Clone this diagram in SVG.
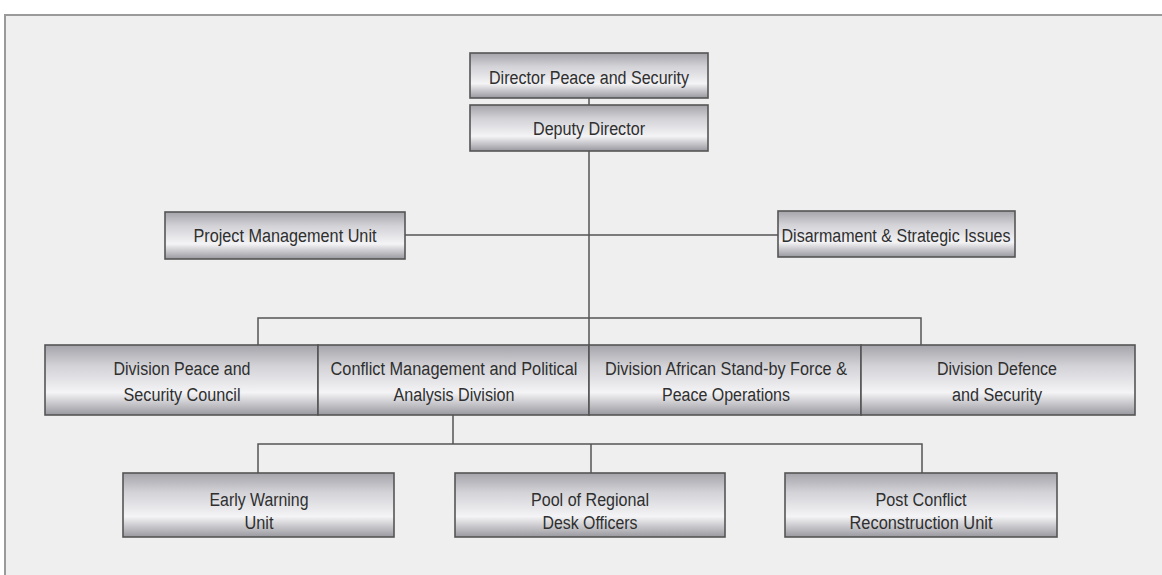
<svg xmlns="http://www.w3.org/2000/svg" width="1162" height="575" viewBox="0 0 1162 575">
  <defs>
    <linearGradient id="metal" x1="0" y1="0" x2="0" y2="1">
      <stop offset="0" stop-color="#a4a4aa"/>
      <stop offset="0.3" stop-color="#d2d2d7"/>
      <stop offset="0.68" stop-color="#f4f4f6"/>
      <stop offset="1" stop-color="#98989f"/>
    </linearGradient>
    <style>
      .box { fill: url(#metal); stroke: #555; stroke-width: 1.6; }
      .lbl { font-family: "Liberation Sans", Arial, sans-serif; font-size: 18px; fill: #2f2f2f; text-anchor: middle; }
      .wire { fill: none; stroke: #555; stroke-width: 1.5; }
    </style>
  </defs>

  <!-- page and frame -->
  <rect x="0" y="0" width="1162" height="575" fill="#ffffff"/>
  <rect x="5" y="15" width="1157" height="560" fill="#efefef"/>
  <path d="M5 575 V15 H1162" fill="none" stroke="#9a9a9a" stroke-width="2"/>

  <!-- connectors -->
  <g id="connectors" class="wire">
    <path d="M589 98 V105"/>
    <path d="M589 151 V345"/>
    <path d="M405 235 H778"/>
    <path d="M258 345 V318 H921 V345"/>
    <path d="M453 415 V444"/>
    <path d="M258 473 V444 H922 V473"/>
    <path d="M591 444 V473"/>
  </g>

  <g id="director">
    <rect class="box" x="470" y="53" width="238" height="45"/>
    <text class="lbl" x="589" y="84" textLength="200" lengthAdjust="spacingAndGlyphs">Director Peace and Security</text>
  </g>

  <g id="deputy">
    <rect class="box" x="470" y="105" width="238" height="46"/>
    <text class="lbl" x="589" y="135" textLength="112" lengthAdjust="spacingAndGlyphs">Deputy Director</text>
  </g>

  <g id="pmu">
    <rect class="box" x="165" y="212" width="240" height="47"/>
    <text class="lbl" x="285" y="242" textLength="183" lengthAdjust="spacingAndGlyphs">Project Management Unit</text>
  </g>

  <g id="disarmament">
    <rect class="box" x="778" y="211" width="237" height="46"/>
    <text class="lbl" x="896" y="242" textLength="229" lengthAdjust="spacingAndGlyphs">Disarmament &amp; Strategic Issues</text>
  </g>

  <g id="div-psc">
    <rect class="box" x="45" y="345" width="273" height="70"/>
    <text class="lbl" x="182" y="375" textLength="137" lengthAdjust="spacingAndGlyphs">Division Peace and</text>
    <text class="lbl" x="182" y="401" textLength="117" lengthAdjust="spacingAndGlyphs">Security Council</text>
  </g>

  <g id="div-cmpa">
    <rect class="box" x="318" y="345" width="271" height="70"/>
    <text class="lbl" x="454" y="375" textLength="247" lengthAdjust="spacingAndGlyphs">Conflict Management and Political</text>
    <text class="lbl" x="454" y="401" textLength="121" lengthAdjust="spacingAndGlyphs">Analysis Division</text>
  </g>

  <g id="div-asf">
    <rect class="box" x="589" y="345" width="272" height="70"/>
    <text class="lbl" x="726" y="375" textLength="242" lengthAdjust="spacingAndGlyphs">Division African Stand-by Force &amp;</text>
    <text class="lbl" x="726" y="401" textLength="128" lengthAdjust="spacingAndGlyphs">Peace Operations</text>
  </g>

  <g id="div-defence">
    <rect class="box" x="861" y="345" width="274" height="70"/>
    <text class="lbl" x="997" y="375" textLength="120" lengthAdjust="spacingAndGlyphs">Division Defence</text>
    <text class="lbl" x="997" y="401" textLength="90" lengthAdjust="spacingAndGlyphs">and Security</text>
  </g>

  <g id="early-warning">
    <rect class="box" x="123" y="473" width="271" height="64"/>
    <text class="lbl" x="259" y="506" textLength="99" lengthAdjust="spacingAndGlyphs">Early Warning</text>
    <text class="lbl" x="259" y="529" textLength="29" lengthAdjust="spacingAndGlyphs">Unit</text>
  </g>

  <g id="desk-officers">
    <rect class="box" x="455" y="473" width="270" height="64"/>
    <text class="lbl" x="590" y="506" textLength="118" lengthAdjust="spacingAndGlyphs">Pool of Regional</text>
    <text class="lbl" x="590" y="529" textLength="95" lengthAdjust="spacingAndGlyphs">Desk Officers</text>
  </g>

  <g id="reconstruction">
    <rect class="box" x="785" y="473" width="272" height="64"/>
    <text class="lbl" x="921" y="506" textLength="91" lengthAdjust="spacingAndGlyphs">Post Conflict</text>
    <text class="lbl" x="921" y="529" textLength="143" lengthAdjust="spacingAndGlyphs">Reconstruction Unit</text>
  </g>
</svg>
